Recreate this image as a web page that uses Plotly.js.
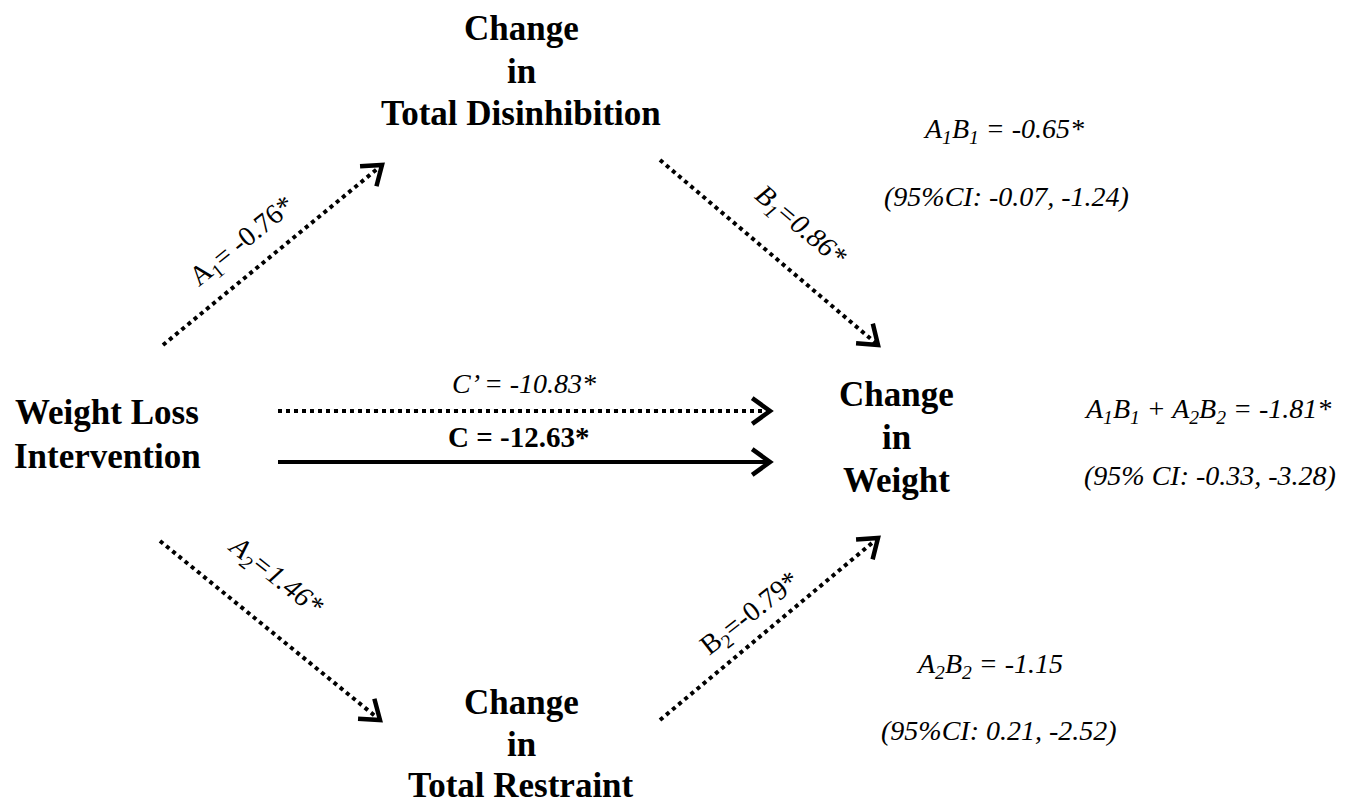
<!DOCTYPE html>
<html>
<head>
<meta charset="utf-8">
<script src="https://cdn.plot.ly/plotly-3.0.1.min.js"></script>
</head>
<body style="margin:0;background:#fff">
<div id="chart" style="width:1368px;height:804px"></div>
<script>
// ---------------- DATA ----------------
const nodeNames = ["Weight Loss Intervention", "Change in Total Disinhibition", "Change in Total Restraint", "Change in Weight"];
const nodeLines = [["Weight Loss", "Intervention"], ["Change", "in", "Total Disinhibition"], ["Change", "in", "Total Restraint"], ["Change", "in", "Weight"]];
const pathNames = ["A<sub>1</sub>", "B<sub>1</sub>", "A<sub>2</sub>", "B<sub>2</sub>", "C\u2019", "C"];
const pathSeparators = ["= ", "=", "=", "=", " = ", " = "];
const pathCoefficients = [-0.76, 0.86, 1.46, -0.79, -10.83, -12.63];
const pathSignificant = [true, true, true, true, true, true];
const effectNames = ["A<sub>1</sub>B<sub>1</sub>", "A<sub>1</sub>B<sub>1</sub> + A<sub>2</sub>B<sub>2</sub>", "A<sub>2</sub>B<sub>2</sub>"];
const effectValues = [-0.65, -1.81, -1.15];
const effectSignificant = [true, true, false];
const ciPrefixes = ["(95%CI: ", "(95% CI: ", "(95%CI: "];
const ciLower = [-0.07, -0.33, 0.21];
const ciUpper = [-1.24, -3.28, -2.52];

// ---------------- GEOMETRY / STYLE (pixel space) ----------------
const nodeGeom = [
  {x: 107, y: [412, 456]},
  {x: 521, y: [28, 71, 113]},
  {x: 521, y: [702, 744, 785]},
  {x: 896, y: [394, 437, 480]}
];
const pathGeom = [
  {x0: 163, y0: 345, x1: 382, y1: 165, lx: 242, ly: 242, ang: -39, dash: "dot", italic: false, bold: false, size: 28},
  {x0: 660, y0: 160, x1: 878, y1: 345, lx: 800, ly: 226, ang: 40, dash: "dot", italic: true, bold: false, size: 28},
  {x0: 160, y0: 541, x1: 380, y1: 720, lx: 275, ly: 576, ang: 38, dash: "dot", italic: true, bold: false, size: 28},
  {x0: 660, y0: 720, x1: 878, y1: 538, lx: 750, ly: 614, ang: -38, dash: "dot", italic: false, bold: false, size: 28},
  {x0: 278, y0: 411, x1: 770, y1: 411, lx: 524, ly: 383, ang: 0, dash: "dot", italic: true, bold: false, size: 28},
  {x0: 278, y0: 462, x1: 770, y1: 462, lx: 518, ly: 437, ang: 0, dash: "solid", italic: false, bold: true, size: 29}
];
const effectGeom = [
  {x: 1003, y: 130, cx: 1006, cy: 196},
  {x: 1207, y: 410, cx: 1210, cy: 475},
  {x: 989, y: 665, cx: 999, cy: 730}
];
const serif = "Liberation Serif";
const nodeFontSize = 35;
const effectFontSize = 28;
const headLen = 22, headAng = 36 * Math.PI / 180;

// ---------------- BUILD ----------------
const traces = [];
const annotations = [];

pathNames.forEach((name, i) => {
  const g = pathGeom[i];
  traces.push({
    x: [g.x0, g.x1], y: [g.y0, g.y1], mode: "lines", hoverinfo: "skip", showlegend: false,
    line: {color: "#000", width: 4, dash: g.dash}
  });
  const a = Math.atan2(g.y1 - g.y0, g.x1 - g.x0);
  const hx = [g.x1 - headLen * Math.cos(a - headAng), g.x1, g.x1 - headLen * Math.cos(a + headAng)];
  const hy = [g.y1 - headLen * Math.sin(a - headAng), g.y1, g.y1 - headLen * Math.sin(a + headAng)];
  traces.push({
    x: hx, y: hy, mode: "lines", hoverinfo: "skip", showlegend: false,
    line: {color: "#000", width: 4.5, dash: "solid"}
  });
  let txt = name + pathSeparators[i] + pathCoefficients[i].toFixed(2) + (pathSignificant[i] ? "*" : "");
  if (g.italic) txt = "<i>" + txt + "</i>";
  if (g.bold) txt = "<b>" + txt + "</b>";
  annotations.push({
    x: g.lx, y: g.ly, xref: "x", yref: "y", text: txt, showarrow: false, textangle: g.ang,
    xanchor: "center", yanchor: "middle",
    font: {family: serif, size: g.size, color: "#000"}
  });
});

nodeLines.forEach((lines, i) => {
  lines.forEach((ln, j) => {
    annotations.push({
      x: nodeGeom[i].x, y: nodeGeom[i].y[j], xref: "x", yref: "y", text: "<b>" + ln + "</b>",
      showarrow: false, xanchor: "center", yanchor: "middle",
      font: {family: serif, size: nodeFontSize, color: "#000"}
    });
  });
});

effectNames.forEach((name, i) => {
  const g = effectGeom[i];
  annotations.push({
    x: g.x, y: g.y, xref: "x", yref: "y",
    text: "<i>" + name + " = " + effectValues[i].toFixed(2) + (effectSignificant[i] ? "*" : "") + "</i>",
    showarrow: false, xanchor: "center", yanchor: "middle",
    font: {family: serif, size: effectFontSize, color: "#000"}
  });
  annotations.push({
    x: g.cx, y: g.cy, xref: "x", yref: "y",
    text: "<i>" + ciPrefixes[i] + ciLower[i].toFixed(2) + ", " + ciUpper[i].toFixed(2) + ")</i>",
    showarrow: false, xanchor: "center", yanchor: "middle",
    font: {family: serif, size: effectFontSize, color: "#000"}
  });
});

const layout = {
  width: 1368, height: 804,
  margin: {l: 0, r: 0, t: 0, b: 0},
  paper_bgcolor: "#fff", plot_bgcolor: "#fff",
  showlegend: false,
  xaxis: {range: [0, 1368], visible: false, fixedrange: true},
  yaxis: {range: [804, 0], visible: false, fixedrange: true},
  annotations: annotations
};

Plotly.newPlot("chart", traces, layout, {displayModeBar: false});
</script>
</body>
</html>
